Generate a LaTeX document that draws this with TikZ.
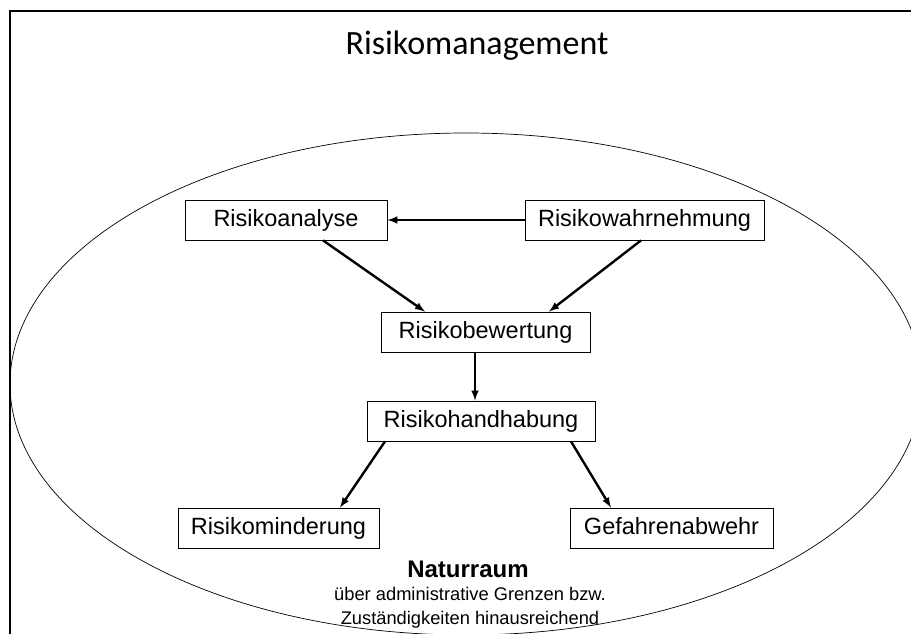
\documentclass[tikz,border=0pt]{standalone}
\usepackage{fontspec}
\setmainfont{Liberation Sans}
\newfontfamily\titlefont{Carlito}
\usetikzlibrary{positioning}

\tikzset{
	box/.style={draw, line width=0.8pt, minimum height=40pt, inner xsep=0pt,
		text height=17pt, text depth=5pt, font=\fontsize{23.5}{27}\selectfont},
	arrow/.style={-latex, line width=2.4pt}
}

\begin{document}
\begin{tikzpicture}[x=1pt, y=-1pt]
	\clip (0,0) rectangle (911,634);
	% frame and natural area
	\draw [line width=1.8pt] (10,11) rectangle (925,650);
	\draw [line width=0.7pt] (466,384) ellipse [x radius=456, y radius=251];
	\node [font=\titlefont\fontsize{34}{40}\selectfont, anchor=base] (title) at (477,55) {Risikomanagement};

	\node [box, minimum width=202pt] (analyse) at (286,220) {Risikoanalyse};
	\node [box, minimum width=239pt] (wahrnehmung) at (644.5,220) {Risikowahrnehmung};
	\node [box, minimum width=209pt] (bewertung) at (485.5,332) {Risikobewertung};
	\node [box, minimum width=228pt] (handhabung) at (481,421) {Risikohandhabung};
	\node [box, minimum width=201pt] (minderung) at (278.5,528) {Risikominderung};
	\node [box, minimum width=203pt] (abwehr) at (671.5,528) {Gefahrenabwehr};

	\draw [arrow] (wahrnehmung) -- (analyse);
	\draw [arrow] ([xshift=37pt]analyse.south) -- ([xshift=-60.5pt]bewertung.north);
	\draw [arrow] ([xshift=-3.5pt]wahrnehmung.south) -- ([xshift=63.5pt]bewertung.north);
	\draw [arrow] ([xshift=-10.5pt]bewertung.south) -- ([xshift=-6pt]handhabung.north);
	\draw [arrow] ([xshift=-96pt]handhabung.south) -- ([xshift=61.5pt]minderung.north);
	\draw [arrow] ([xshift=90pt]handhabung.south) -- ([xshift=-60.5pt]abwehr.north);

	% label of the area
	\node [font=\bfseries\fontsize{24}{28}\selectfont, anchor=base] (naturraum) at (468,577) {Naturraum};
	\node [font=\fontsize{18.3}{24}\selectfont, anchor=base, align=center] (grenzen) at (470,624)
		{über administrative Grenzen bzw.\\Zuständigkeiten hinausreichend};
\end{tikzpicture}
\end{document}
